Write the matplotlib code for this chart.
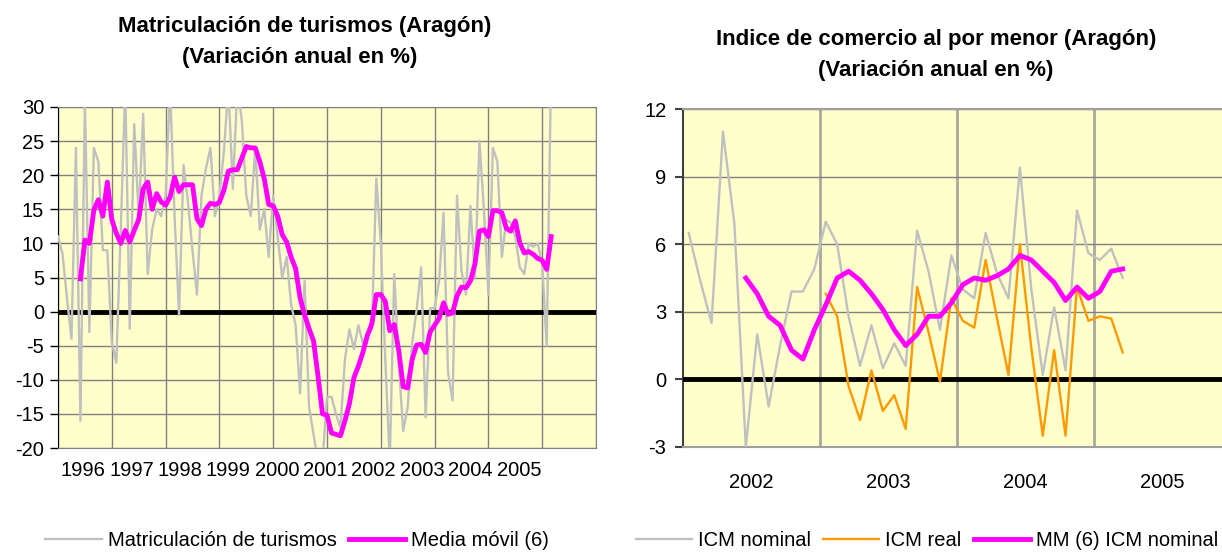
import numpy as np
from matplotlib import pyplot as plt

plt.rcParams['font.family'] = ['Liberation Sans', 'DejaVu Sans']
plt.rcParams['axes.unicode_minus'] = False

# ---- panel izquierdo: matriculacion de turismos (mensual, desde ene 1996)
turismos = [11, 8.5, 2, -4, 24, -16, 31, -3, 24, 22, 9, 9,
            -4.5, -7.5, 12, 33, -2.5, 27.5, 14, 29, 5.5, 12, 15, 14,
            17, 33, 14, -0.5, 21.5, 16, 9, 2.5, 17, 21, 24, 14,
            17, 23.5, 33, 18, 33, 28, 17, 14, 24, 12, 15, 8,
            17, 11, 5, 8, 1, -2, -12, 4.5, -14, -18, -22, -22,
            -12.5, -12.5, -15, -17, -7, -2.6, -5.5, -2, -4.6, -3.5, -2.6, 19.5,
            10, -7, -22, 5.5, -7.6, -17.5, -14, -4.6, 0.3, 6.5, -15.5, 0.5,
            0.5, 4.5, 14.5, -9, -13, 17, 6, 2.5, 15.5, 5, 25, 15,
            2.5, 24, 22, 8, 13.5, 13, 11, 6.5, 5.5, 10, 9.5, 10,
            7, -5, 36]
media_movil = [4.8, 10.5, 10, 14.9, 16.4, 14, 19,
               13.5, 11.5, 10, 11.9, 10.2, 11.9, 13.5, 18, 19, 15, 17.3, 16.1,
               15.6, 16.8, 19.7, 17.6, 18.6, 18.6, 18.6, 13.6, 12.6, 15, 15.9, 15.7,
               16, 17.8, 20.6, 20.8, 20.8, 22.5, 24.2, 24, 24, 22, 19.5, 15.7,
               15.5, 14, 11.3, 10.2, 8, 6.3, 2, -0.5, -2.5, -4.3, -9.5, -15,
               -15.2, -17.8, -18, -18.2, -16, -13.5, -9.7, -8, -6, -3.5, -1.8, 2.5,
               2.5, 1.5, -2.8, -1.9, -5.7, -11, -11.2, -7, -4.9, -4.8, -6, -3,
               -2, -1, 1.3, -0.4, -0.2, 2.3, 3.6, 3.5, 4.5, 7, 11.8, 12,
               11, 14.8, 14.8, 14.5, 12.2, 11.8, 13.3, 10.1, 8.6, 8.8, 8.4, 7.8,
               7.5, 6.2, 11]
mm_inicio = 5
anios_izq = ['1996', '1997', '1998', '1999', '2000', '2001', '2002', '2003', '2004', '2005']

# ---- panel derecho: indice de comercio al por menor (mensual, desde ene 2002)
icm_nominal = [6.5, 4.4, 2.5, 11.0, 6.9, -3.0, 2.0, -1.2, 1.5, 3.9, 3.9, 4.9,
               7.0, 6.0, 2.8, 0.6, 2.4, 0.5, 1.6, 0.6, 6.6, 4.8, 2.2, 5.5,
               4.0, 3.6, 6.5, 4.7, 3.6, 9.4, 4.0, 0.2, 3.2, 0.4, 7.5, 5.6,
               5.3, 5.8, 4.5]
icm_real = [3.8, 2.8, -0.3, -1.8, 0.4, -1.4, -0.7, -2.2, 4.1, 2.1, -0.1, 3.6,
            2.6, 2.3, 5.3, 2.7, 0.2, 6.0, 1.4, -2.5, 1.3, -2.5, 4.1, 2.6,
            2.8, 2.7, 1.2]
real_inicio = 12
mm_icm = [4.5, 3.8, 2.8, 2.4, 1.3, 0.9, 2.2,
          3.3, 4.5, 4.8, 4.4, 3.8, 3.1, 2.2, 1.5, 2.0, 2.8, 2.8, 3.4,
          4.2, 4.5, 4.4, 4.6, 4.9, 5.5, 5.3, 4.8, 4.3, 3.5, 4.1, 3.6,
          3.9, 4.8, 4.9]
mm_icm_inicio = 5
anios_der = ['2002', '2003', '2004', '2005']

FONDO = '#FFFFCC'
GRIS = '#C0C0C0'
MAGENTA = '#FF00FF'
NARANJA = '#FF9900'
REJILLA = '#808080'
FS = 14.5

fig = plt.figure(figsize=(12.22, 5.52), dpi=100)

# ================= izquierda
ax1 = fig.add_axes([58/1222, 1-448/552, 538/1222, 341/552])
ax1.set_facecolor(FONDO)
x = np.arange(len(turismos))
xm = np.arange(len(media_movil)) + mm_inicio
ax1.set_xlim(0, 120)
ax1.set_ylim(-20, 30)
ax1.set_yticks(np.arange(-20, 31, 5))
ax1.set_xticks(np.arange(0, 121, 12))
ax1.set_xticklabels([])
ax1.set_xticks(5.6 + 10.8*np.arange(len(anios_izq)), labels=anios_izq, minor=True)
ax1.tick_params(axis='x', which='both', length=0)
ax1.tick_params(axis='x', which='minor', pad=9, labelsize=FS)
ax1.tick_params(axis='y', length=6, width=1, pad=4, labelsize=FS, direction='out')
ax1.grid(which='major', color=REJILLA, lw=1)
ax1.set_axisbelow(True)
ax1.axhline(0, color='black', lw=3.5, zorder=3)
ax1.plot(x, turismos, color=GRIS, lw=1.7, zorder=4, label='Matriculación de turismos')
ax1.plot(xm, media_movil, color=MAGENTA, lw=3.5, zorder=5, label='Media móvil (6)')
for s in ['top', 'right', 'bottom']:
    ax1.spines[s].set_color(REJILLA)
ax1.spines['left'].set_color('black')
fig.text(305/1222, 1-32/552, 'Matriculación de turismos (Aragón)',
         ha='center', va='baseline', fontsize=16, fontweight='bold')
fig.text(300/1222, 1-63/552, '(Variación anual en %)',
         ha='center', va='baseline', fontsize=16, fontweight='bold')
fig.legend(*ax1.get_legend_handles_labels(), loc='center', bbox_to_anchor=(297/1222, 1-541/552),
           ncol=2, frameon=False, fontsize=FS, handlelength=2.8, handletextpad=0.3, columnspacing=0.6)

# ================= derecha
ax2 = fig.add_axes([683/1222, 1-447/552, 539/1222, 338/552])
ax2.set_facecolor(FONDO)
xn = np.arange(len(icm_nominal)) + 0.5
xr = np.arange(len(icm_real)) + real_inicio + 0.5
xmm = np.arange(len(mm_icm)) + mm_icm_inicio + 0.5
ax2.set_xlim(0, 539/11.42)
ax2.set_ylim(-3, 12)
ax2.set_yticks(np.arange(-3, 13, 3))
ax2.set_xticks([12, 24, 36])
ax2.set_xticklabels([])
ax2.set_xticks([6, 18, 30, 42], labels=anios_der, minor=True)
ax2.tick_params(axis='x', which='both', length=0)
ax2.tick_params(axis='x', which='minor', pad=19, labelsize=FS)
ax2.tick_params(axis='y', length=6, width=1.5, pad=6, labelsize=FS, color='#404040')
ax2.grid(axis='y', color=REJILLA, lw=1)
ax2.grid(axis='x', which='major', color='#A8A8A0', lw=2)
ax2.set_axisbelow(True)
ax2.axhline(0, color='black', lw=3.5, zorder=3)
ax2.plot(xn, icm_nominal, color=GRIS, lw=1.7, zorder=4, label='ICM nominal')
ax2.plot(xr, icm_real, color=NARANJA, lw=1.7, zorder=4, label='ICM real')
ax2.plot(xmm, mm_icm, color=MAGENTA, lw=3.5, zorder=5, label='MM (6) ICM nominal')
for s in ['top', 'bottom']:
    ax2.spines[s].set_color('#A0A0A0')
    ax2.spines[s].set_linewidth(1.5)
ax2.spines['right'].set_visible(False)
ax2.spines['left'].set_color('#404040')
ax2.spines['left'].set_linewidth(1.5)
fig.text(936/1222, 1-45/552, 'Indice de comercio al por menor (Aragón)',
         ha='center', va='baseline', fontsize=16, fontweight='bold')
fig.text(936/1222, 1-76/552, '(Variación anual en %)',
         ha='center', va='baseline', fontsize=16, fontweight='bold')
fig.legend(*ax2.get_legend_handles_labels(), loc='center', bbox_to_anchor=(927/1222, 1-541/552),
           ncol=3, frameon=False, fontsize=FS, handlelength=2.8, handletextpad=0.3, columnspacing=0.6)

fig.savefig('out.png', dpi=100)
